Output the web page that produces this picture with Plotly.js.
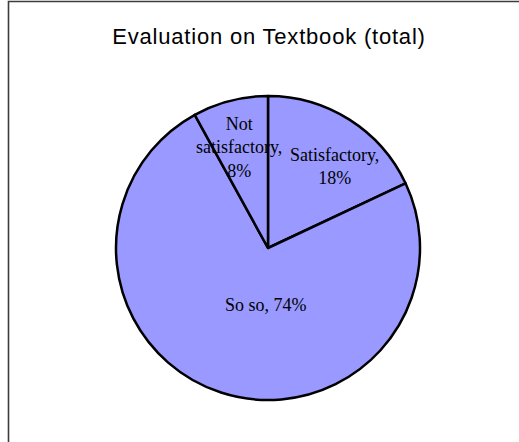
<!DOCTYPE html>
<html>
<head>
<meta charset="utf-8">
<script src="https://cdn.plot.ly/plotly-3.0.1.min.js"></script>
<style>
  html, body { margin: 0; padding: 0; background: #ffffff; }
  #chart { width: 519px; height: 442px; }
  #chart .gtitle { letter-spacing: 0.8px; }
</style>
</head>
<body>
<div id="chart"></div>
<script>
// Survey answers, in clockwise order starting at 12 o'clock
const categories = ['Satisfactory', 'So so', 'Not satisfactory'];
const shares = [18, 74, 8];

// Label placement (paper fractions) and whether each label wraps onto several lines
const labelPlacement = [
  { x: 334 / 519, y: 1 - 166 / 442 },
  { x: 266 / 519, y: 1 - 305 / 442 },
  { x: 239 / 519, y: 1 - 148 / 442 }
];
const wrapLabel = [true, false, true];

const sliceColor = '#9999FF';
const serif = 'Liberation Serif, Times New Roman, serif';

function labelText(i) {
  const name = wrapLabel[i] ? categories[i].split(' ').join('<br>') : categories[i];
  const sep = wrapLabel[i] ? ',<br>' : ', ';
  return name + sep + shares[i] + '%';
}

const trace = {
  type: 'pie',
  labels: categories,
  values: shares,
  sort: false,
  direction: 'clockwise',
  rotation: 0,
  textinfo: 'none',
  hoverinfo: 'label+percent',
  marker: {
    colors: categories.map(() => sliceColor),
    line: { color: '#000000', width: 2.5 }
  },
  domain: { x: [116 / 519, 420 / 519], y: [42 / 442, 346 / 442] },
  showlegend: false
};

const annotations = categories.map((c, i) => ({
  xref: 'paper', yref: 'paper',
  x: labelPlacement[i].x, y: labelPlacement[i].y,
  xanchor: 'center', yanchor: 'middle',
  text: labelText(i),
  showarrow: false,
  align: 'center',
  font: { family: serif, size: 18, color: '#000000' }
}));

const layout = {
  width: 519,
  height: 442,
  margin: { l: 0, r: 0, t: 0, b: 0 },
  paper_bgcolor: '#ffffff',
  plot_bgcolor: '#ffffff',
  title: {
    text: 'Evaluation on Textbook (total)',
    x: 269 / 519, xanchor: 'center',
    y: 1 - 36 / 442, yanchor: 'middle',
    font: { family: 'Liberation Sans, Arial, sans-serif', size: 22, color: '#000000' }
  },
  annotations: annotations,
  shapes: [{
    type: 'rect', xref: 'paper', yref: 'paper',
    x0: 8.5 / 519, x1: 1.05, y0: -0.05, y1: 1 - 1.5 / 442,
    line: { color: '#3c3c3c', width: 1.6 },
    fillcolor: 'rgba(0,0,0,0)'
  }]
};

Plotly.newPlot('chart', [trace], layout, { displayModeBar: false, staticPlot: true });
</script>
</body>
</html>
